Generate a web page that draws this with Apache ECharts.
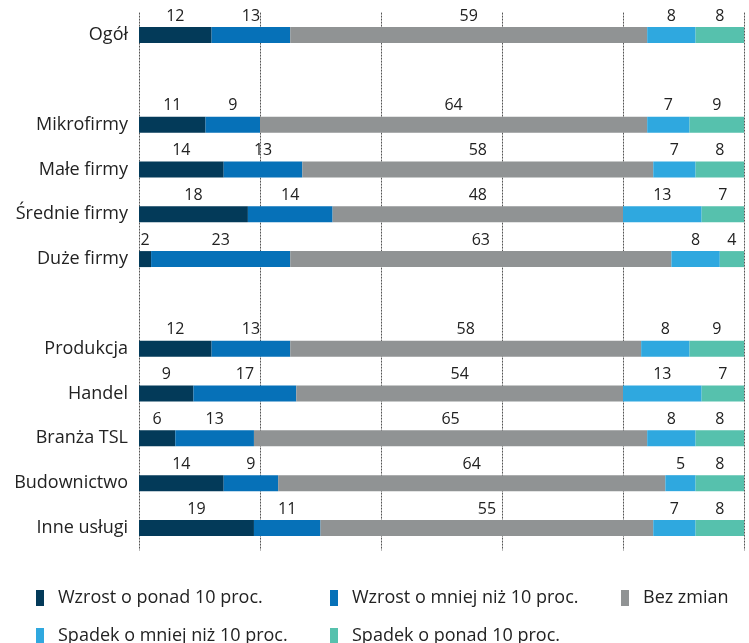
<!DOCTYPE html>
<html>
<head>
<meta charset="utf-8">
<script src="https://cdn.jsdelivr.net/npm/echarts@6/dist/echarts.min.js"></script>
<style>
html,body{margin:0;padding:0;background:#fff;}
#chart{width:749px;height:643px;}
</style>
</head>
<body>
<div id="chart"></div>
<script>
const categories = ['Ogół', '', 'Mikrofirmy', 'Małe firmy', 'Średnie firmy', 'Duże firmy', ' ', 'Produkcja', 'Handel', 'Branża TSL', 'Budownictwo', 'Inne usługi'];
const seriesNames = ['Wzrost o ponad 10 proc.', 'Wzrost o mniej niż 10 proc.', 'Bez zmian', 'Spadek o mniej niż 10 proc.', 'Spadek o ponad 10 proc.'];
const wzrostPonad = [12, '-', 11, 14, 18, 2, '-', 12, 9, 6, 14, 19];
const wzrostMniej = [13, '-', 9, 13, 14, 23, '-', 13, 17, 13, 9, 11];
const bezZmian    = [59, '-', 64, 58, 48, 63, '-', 58, 54, 65, 64, 55];
const spadekMniej = [8, '-', 7, 7, 13, 8, '-', 8, 13, 8, 5, 7];
const spadekPonad = [8, '-', 9, 8, 7, 4, '-', 9, 7, 8, 8, 8];
const xTicks = [0, 20, 40, 60, 80, 100];

const colors = ['#033a59', '#0671b8', '#909394', '#2fa8df', '#56c1ad'];
const FONT = '"Open Sans"';
const values = [wzrostPonad, wzrostMniej, bezZmian, spadekMniej, spadekPonad];

// legend placement: [left, top] per series
const legendPos = [[36, 589], [330, 589], [621, 589], [36, 627], [330, 627]];

const chart = echarts.init(document.getElementById('chart'));
chart.setOption({
  animation: false,
  textStyle: { fontFamily: FONT },
  grid: { left: 139, right: 5, top: 12.6, bottom: 92.6, containLabel: false },
  xAxis: {
    type: 'value', min: xTicks[0], max: xTicks[xTicks.length - 1], interval: 20,
    axisLabel: { show: false }, axisLine: { show: false }, axisTick: { show: false },
    splitLine: { show: true, lineStyle: { type: [2, 1], color: '#555', width: 1 } }
  },
  yAxis: {
    type: 'category', data: categories, inverse: true,
    axisLine: { show: false }, axisTick: { show: false },
    axisLabel: { color: '#222', fontSize: 18, fontFamily: FONT, margin: 11,
      verticalAlign: 'middle', padding: [10, 0, 0, 0] }
  },
  legend: seriesNames.map((n, i) => ({
    data: [n], left: legendPos[i][0], top: legendPos[i][1], padding: 0,
    itemWidth: 8, itemHeight: 16, icon: 'rect', itemGap: 0,
    textStyle: { fontSize: 18, color: '#222', fontFamily: FONT, lineHeight: 16, padding: [0, 0, 0, 9] }
  })),
  series: seriesNames.map((name, i) => ({
    name: name, type: 'bar', stack: 'total', barWidth: 16,
    data: values[i],
    itemStyle: { color: colors[i] },
    label: { show: true, position: 'top', distance: 3, color: '#222', fontSize: 16, fontFamily: FONT }
  }))
});
</script>
</body>
</html>
